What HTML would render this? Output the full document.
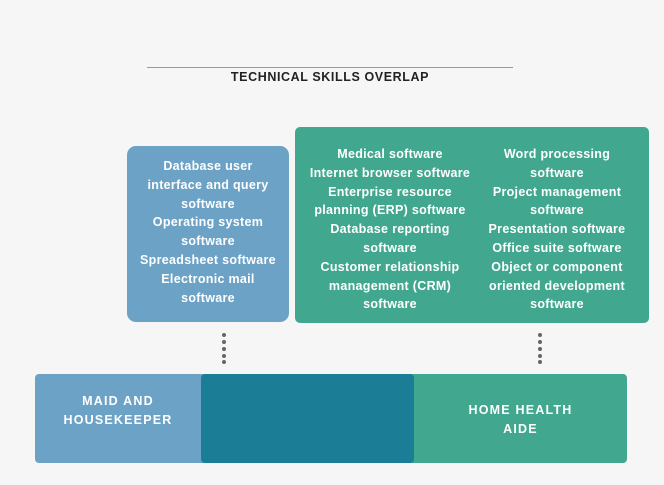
<!DOCTYPE html>
<html><head><style>
body{margin:0;width:664px;height:485px;background:#f6f6f6;font-family:"Liberation Sans",sans-serif;position:relative;overflow:hidden}
.a{position:absolute;box-sizing:border-box}
.t{color:#fff;font-weight:bold;font-size:12.5px;line-height:18.8px;text-align:center;letter-spacing:0.3px}
.d{position:absolute;width:4px;height:4px;border-radius:50%;background:#666}
</style></head><body>
<div class="a" style="left:147px;top:67px;width:366px;height:1px;background:#999"></div>
<div class="a" style="left:147px;top:70px;width:366px;text-align:center;font-weight:bold;font-size:12.5px;letter-spacing:0.6px;color:#222">TECHNICAL SKILLS OVERLAP</div>
<div class="a t" style="left:127px;top:146px;width:162px;height:176px;background:#6ba2c6;border-radius:9px;padding-top:11px">Database user<br>interface and query<br>software<br>Operating system<br>software<br>Spreadsheet software<br>Electronic mail<br>software</div>
<div class="a" style="left:295px;top:127px;width:354px;height:196px;background:#41a88f;border-radius:5px"></div>
<div class="a t" style="left:300px;top:145px;width:180px">Medical software<br>Internet browser software<br>Enterprise resource<br>planning (ERP) software<br>Database reporting<br>software<br>Customer relationship<br>management (CRM)<br>software</div>
<div class="a t" style="left:482px;top:145px;width:150px">Word processing<br>software<br>Project management<br>software<br>Presentation software<br>Office suite software<br>Object or component<br>oriented development<br>software</div>
<div class="d" style="left:222px;top:333px"></div><div class="d" style="left:222px;top:340px"></div><div class="d" style="left:222px;top:347px"></div><div class="d" style="left:222px;top:354px"></div><div class="d" style="left:222px;top:360px"></div>
<div class="d" style="left:538px;top:333px"></div><div class="d" style="left:538px;top:340px"></div><div class="d" style="left:538px;top:347px"></div><div class="d" style="left:538px;top:354px"></div><div class="d" style="left:538px;top:360px"></div>
<div class="a" style="left:35px;top:374px;width:200px;height:89px;background:#6ba2c6;border-radius:4px"></div>
<div class="a" style="left:390px;top:374px;width:237px;height:89px;background:#41a88f;border-radius:4px"></div>
<div class="a" style="left:201px;top:374px;width:213px;height:89px;background:#1c7d97;border-radius:4px"></div>
<div class="a t" style="left:35px;top:392px;width:166px;letter-spacing:1.2px">MAID AND<br>HOUSEKEEPER</div>
<div class="a t" style="left:414px;top:401px;width:213px;letter-spacing:1.2px">HOME HEALTH<br>AIDE</div>
</body></html>
